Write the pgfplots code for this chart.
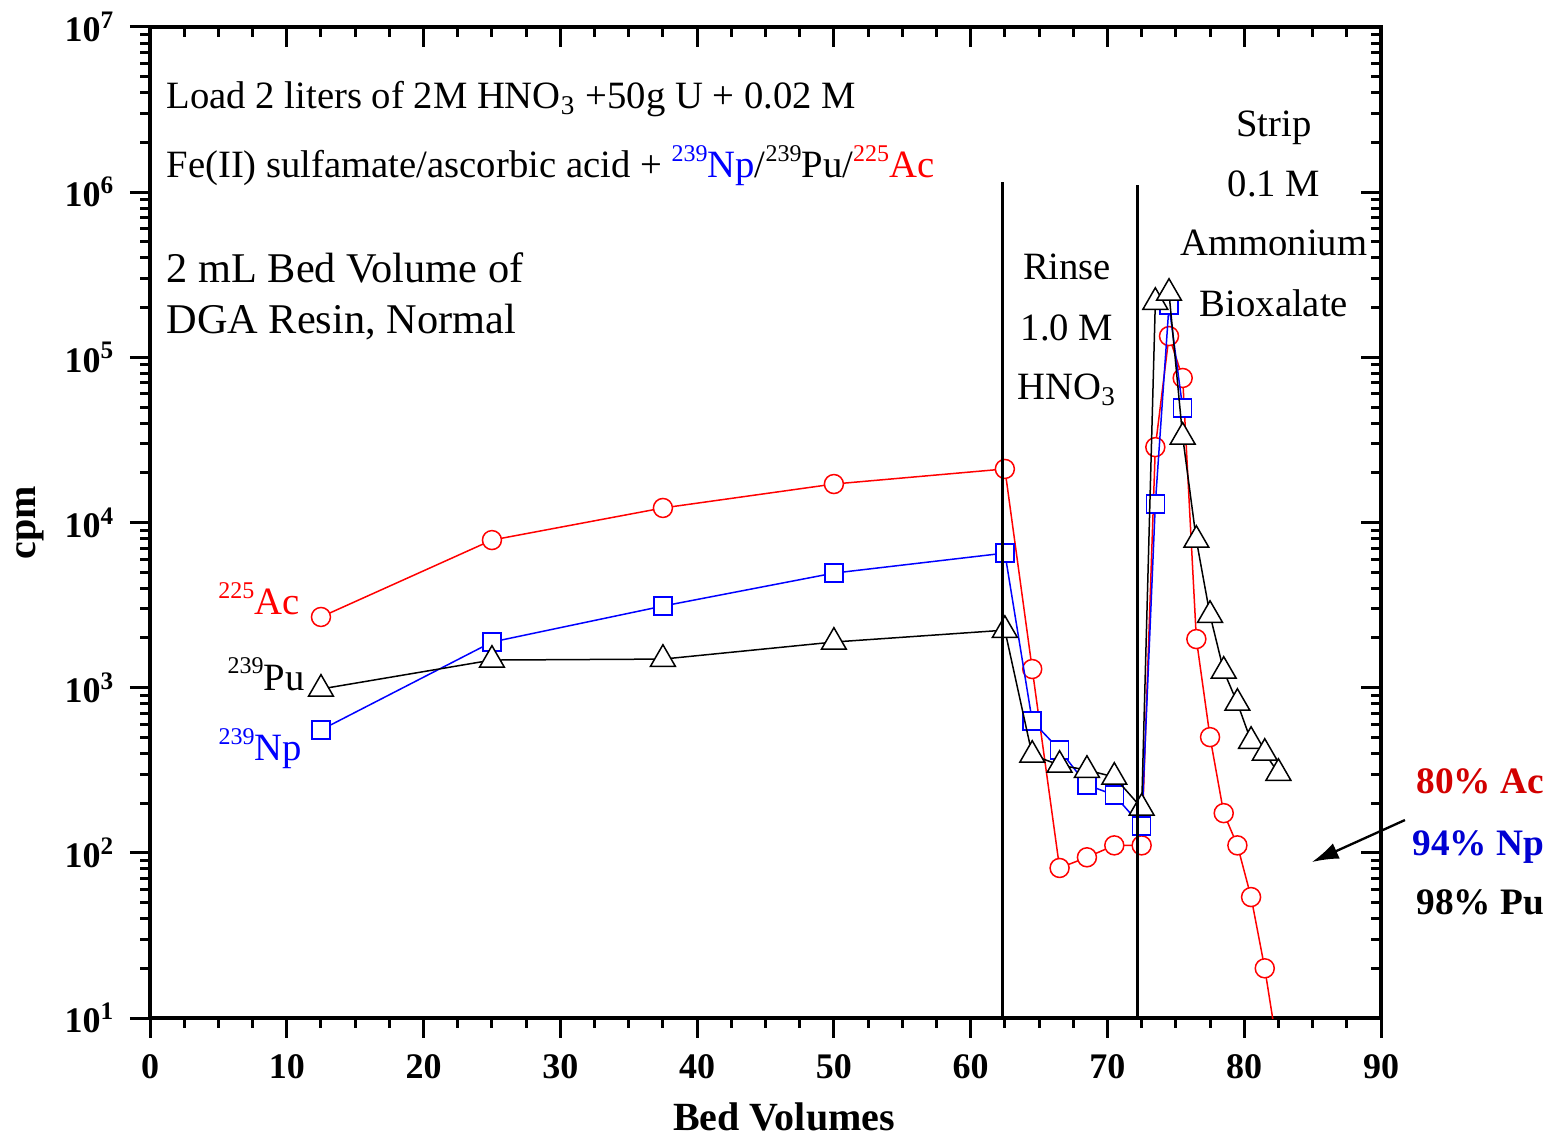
\documentclass[border=0pt]{standalone}
\usepackage{fontspec}
\setmainfont{Liberation Serif}
\usepackage{pgfplots}
\pgfplotsset{compat=1.18}
\usetikzlibrary{arrows.meta}
\definecolor{dred}{RGB}{210,0,0}
\definecolor{dblue}{RGB}{0,0,210}
\newcommand{\sups}[1]{\raisebox{0.42em}{\fontsize{7.2}{8}\selectfont #1}}
\pgfplotsset{
  /pgfplots/mycommon/.style={
    scale only axis, width=369.3pt, height=297.3pt,
    xmin=0, xmax=90, ymin=10, ymax=1e7, log basis y=10,
    xtick={0,10,...,90}, minor x tick num=3,
    ytick={10,100,1000,10000,100000,1000000,10000000},
    minor ytick={20,30,40,50,60,70,80,90,200,300,400,500,600,700,800,900,2000,3000,4000,5000,6000,7000,8000,9000,20000,30000,40000,50000,60000,70000,80000,90000,200000,300000,400000,500000,600000,700000,800000,900000,2000000,3000000,4000000,5000000,6000000,7000000,8000000,9000000},
    axis line style={line width=1.2pt},
    major tick length=6pt, minor tick length=3pt,
    every tick/.style={black, line width=0.9pt},
  }
}
\begin{document}
\begin{tikzpicture}
\begin{semilogyaxis}[mycommon, xtick pos=top, ytick pos=right, tick align=inside, xticklabels={}, yticklabels={}, tick label style={text opacity=0}]
\end{semilogyaxis}
\begin{semilogyaxis}[mycommon, xtick pos=bottom, ytick pos=left, tick align=outside, clip mode=individual,
  /pgf/number format/assume math mode=true,
  tick label style={font=\fontsize{10.8}{12}\selectfont\bfseries},
  xticklabel style={yshift=-1.5pt},
  yticklabel style={xshift=-1pt},
  yticklabels={10\textsuperscript{1},10\textsuperscript{2},10\textsuperscript{3},10\textsuperscript{4},10\textsuperscript{5},10\textsuperscript{6},10\textsuperscript{7}},
  xlabel={Bed Volumes}, ylabel={cpm},
  label style={font=\fontsize{12}{14}\selectfont\bfseries},
  xlabel style={at={(axis description cs:0.515,-0.113)}, anchor=base},
  ylabel style={at={(axis description cs:-0.0975,0.5)}, anchor=center},
]
% 225Ac
\addplot[red, line width=0.45pt, mark=*, mark size=2.85pt, mark options={fill=white, draw=red, line width=0.45pt}] coordinates {
(12.5,2680) (25,7830) (37.5,12250) (50,17100) (62.5,21100) (64.5,1297) (66.5,81) (68.5,94) (70.5,111) (72.5,111)
(73.5,28600) (74.5,134500) (75.5,75000) (76.5,1970) (77.5,502) (78.5,174) (79.5,111) (80.5,54) (81.5,20) (82.5,6)
};
% 239Np
\addplot[blue, line width=0.45pt, mark=square*, mark size=2.7pt, mark options={fill=white, draw=blue, line width=0.45pt}] coordinates {
(12.5,555) (25,1890) (37.5,3120) (50,4940) (62.5,6530) (64.5,629) (66.5,420) (68.5,258) (70.5,224) (72.5,145)
(73.5,12950) (74.5,207000) (75.5,49300)
};
% 239Pu
\addplot[black, line width=0.45pt, mark=triangle*, mark size=4.3pt, mark options={fill=white, draw=black, line width=0.45pt}] coordinates {
(12.5,982) (25,1470) (37.5,1490) (50,1890) (62.5,2230) (64.5,391) (66.5,340) (68.5,317) (70.5,288) (72.5,187)
(73.5,216000) (74.5,245000) (75.5,33000) (76.5,7830) (77.5,2750) (78.5,1262) (79.5,807) (80.5,475) (81.5,402) (82.5,304)
};
% phase separators
\addplot[black, line width=0.9pt] coordinates {(62.3,10) (62.3,1.15e6)};
\addplot[black, line width=0.9pt] coordinates {(72.2,10) (72.2,1.1e6)};
% arrow
\draw[-{Latex[length=8pt,width=5pt]}, line width=0.7pt] (axis cs:91.75,158) -- (axis cs:84.95,88);
% annotations
\begin{scope}[every node/.style={font=\fontsize{11.6}{14}\selectfont, inner sep=0pt}]
\node[anchor=base west] at (rel axis cs:0.013,0.918) {Load 2 liters of 2M HNO\textsubscript{3} +50g U + 0.02 M};
\node[anchor=base west] at (rel axis cs:0.013,0.848) {Fe(II) sulfamate/ascorbic acid + \textcolor{blue}{\sups{239}Np}/\sups{239}Pu/\textcolor{red}{\sups{225}Ac}};
\node[anchor=base west, font=\fontsize{12.7}{15}\selectfont] at (rel axis cs:0.013,0.742) {2 mL Bed Volume of};
\node[anchor=base west, font=\fontsize{12.7}{15}\selectfont] at (rel axis cs:0.013,0.691) {DGA Resin, Normal};
\node[anchor=base] at (rel axis cs:0.745,0.745) {Rinse};
\node[anchor=base] at (rel axis cs:0.745,0.684) {1.0 M};
\node[anchor=base] at (rel axis cs:0.745,0.624) {HNO\textsubscript{3}};
\node[anchor=base] at (rel axis cs:0.913,0.890) {Strip};
\node[anchor=base] at (rel axis cs:0.913,0.829) {0.1 M};
\node[anchor=base] at (rel axis cs:0.913,0.769) {Ammonium};
\node[anchor=base] at (rel axis cs:0.913,0.708) {Bioxalate};
\node[anchor=base east, text=red] at (rel axis cs:0.122,0.407) {\sups{225}Ac};
\node[anchor=base east] at (rel axis cs:0.126,0.331) {\sups{239}Pu};
\node[anchor=base east, text=blue] at (rel axis cs:0.124,0.260) {\sups{239}Np};
\end{scope}
\begin{scope}[every node/.style={font=\fontsize{11.2}{14}\selectfont\bfseries, inner sep=0pt}]
\node[anchor=base east, text=dred] at (rel axis cs:1.133,0.227) {80\% Ac};
\node[anchor=base east, text=dblue] at (rel axis cs:1.133,0.164) {94\% Np};
\node[anchor=base east] at (rel axis cs:1.133,0.104) {98\% Pu};
\end{scope}
\end{semilogyaxis}
\path (current axis.south west) ++(-45pt,-35.4pt) coordinate (bl);
\path (current axis.north east) ++(53.7pt,8.1pt) coordinate (tr);
\pgfresetboundingbox
\useasboundingbox (bl) rectangle (tr);
\end{tikzpicture}
\end{document}
